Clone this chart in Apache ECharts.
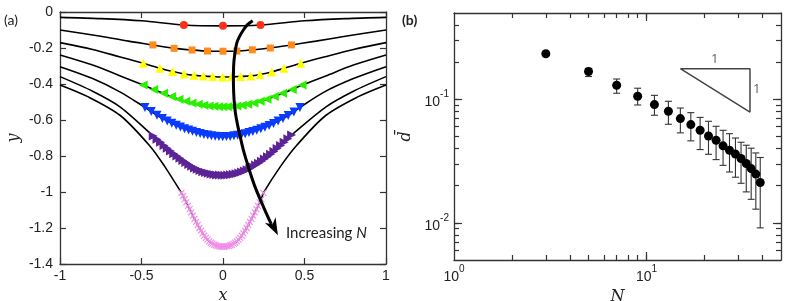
<!DOCTYPE html>
<html><head><meta charset="utf-8">
<script src="https://cdn.jsdelivr.net/npm/echarts@6/dist/echarts.min.js"></script>
<style>html,body{margin:0;padding:0;background:#fff}#c{width:789px;height:301px}</style>
</head><body><div id="c"></div>
<script>
// ---------- Panel (a): particle positions on each surface ----------
const redPts = [[-0.24,-0.072],[0,-0.077],[0.23,-0.072]];
const redOuterL = [[-1,-0.03],[-0.75,-0.037],[-0.5,-0.049]];
const redOuterR = [[0.5,-0.049],[0.75,-0.037],[1,-0.03]];

const orangePts = [[-0.43,-0.183],[-0.3,-0.202],[-0.19,-0.211],[-0.095,-0.217],[0,-0.218],[0.085,-0.217],[0.18,-0.21],[0.29,-0.2],[0.42,-0.183]];
const orangeOuterL = [[-1,-0.1],[-0.75,-0.135],[-0.58,-0.162]];
const orangeOuterR = [[0.57,-0.162],[0.75,-0.135],[1,-0.1]];

const yellowPts = [[-0.489,-0.285],[-0.387,-0.313],[-0.309,-0.331],[-0.239,-0.344],[-0.178,-0.352],[-0.121,-0.356],[-0.063,-0.359],[-0.002,-0.361],[0.053,-0.36],[0.108,-0.358],[0.17,-0.355],[0.227,-0.347],[0.299,-0.333],[0.374,-0.313],[0.477,-0.285]];
const yellowOuterL = [[-1,-0.17],[-0.8,-0.208],[-0.63,-0.25]];
const yellowOuterR = [[0.62,-0.25],[0.8,-0.208],[1,-0.17]];

const greenPts = [[-0.49,-0.406],[-0.425,-0.43],[-0.365,-0.452],[-0.315,-0.47],[-0.27,-0.485],[-0.228,-0.496],[-0.19,-0.506],[-0.152,-0.513],[-0.118,-0.518],[-0.085,-0.522],[-0.055,-0.524],[-0.027,-0.526],[0,-0.526],[0.027,-0.526],[0.055,-0.524],[0.085,-0.522],[0.118,-0.518],[0.152,-0.513],[0.19,-0.506],[0.228,-0.496],[0.27,-0.485],[0.315,-0.47],[0.365,-0.452],[0.425,-0.43],[0.485,-0.406]];
const greenOuterL = [[-1,-0.239],[-0.8,-0.295],[-0.63,-0.355]];
const greenOuterR = [[0.63,-0.355],[0.8,-0.295],[1,-0.239]];

const bluePts = [[-0.479,-0.53],[-0.44,-0.553],[-0.405,-0.573],[-0.372,-0.591],[-0.342,-0.605],[-0.314,-0.618],[-0.287,-0.629],[-0.261,-0.639],[-0.236,-0.648],[-0.211,-0.656],[-0.187,-0.663],[-0.163,-0.669],[-0.14,-0.675],[-0.117,-0.68],[-0.094,-0.684],[-0.071,-0.688],[-0.048,-0.69],[-0.025,-0.692],[-0.002,-0.693],[0.021,-0.692],[0.044,-0.691],[0.067,-0.688],[0.09,-0.685],[0.113,-0.681],[0.136,-0.676],[0.159,-0.67],[0.183,-0.664],[0.207,-0.657],[0.232,-0.649],[0.257,-0.64],[0.283,-0.63],[0.31,-0.619],[0.338,-0.606],[0.368,-0.592],[0.4,-0.575],[0.435,-0.555],[0.472,-0.53]];
const blueOuterL = [[-1,-0.304],[-0.8,-0.37],[-0.63,-0.445]];
const blueOuterR = [[0.62,-0.445],[0.8,-0.37],[1,-0.304]];

const purplePts = [[-0.428,-0.689],[-0.405,-0.707],[-0.383,-0.724],[-0.362,-0.741],[-0.342,-0.757],[-0.322,-0.772],[-0.302,-0.787],[-0.283,-0.8],[-0.264,-0.813],[-0.246,-0.825],[-0.228,-0.836],[-0.21,-0.847],[-0.192,-0.857],[-0.175,-0.866],[-0.158,-0.874],[-0.141,-0.881],[-0.124,-0.887],[-0.107,-0.892],[-0.09,-0.896],[-0.073,-0.9],[-0.056,-0.903],[-0.039,-0.905],[-0.022,-0.906],[-0.005,-0.907],[0.012,-0.907],[0.029,-0.906],[0.046,-0.904],[0.063,-0.901],[0.08,-0.898],[0.097,-0.894],[0.114,-0.889],[0.131,-0.883],[0.148,-0.877],[0.165,-0.869],[0.182,-0.86],[0.2,-0.85],[0.218,-0.84],[0.236,-0.829],[0.254,-0.817],[0.273,-0.804],[0.292,-0.79],[0.312,-0.775],[0.332,-0.759],[0.353,-0.742],[0.375,-0.724],[0.398,-0.704],[0.421,-0.683]];
const purpleOuterL = [[-1,-0.359],[-0.8,-0.44],[-0.63,-0.528]];
const purpleOuterR = [[0.63,-0.528],[0.8,-0.44],[1,-0.359]];

const pinkPts = [[-0.255,-1.005],[-0.245,-1.022],[-0.235,-1.04],[-0.225,-1.058],[-0.215,-1.077],[-0.205,-1.095],[-0.195,-1.113],[-0.185,-1.131],[-0.175,-1.149],[-0.165,-1.166],[-0.155,-1.183],[-0.145,-1.2],[-0.135,-1.215],[-0.125,-1.23],[-0.115,-1.243],[-0.105,-1.255],[-0.095,-1.265],[-0.085,-1.274],[-0.075,-1.281],[-0.065,-1.287],[-0.055,-1.292],[-0.045,-1.296],[-0.035,-1.299],[-0.025,-1.301],[-0.015,-1.303],[-0.005,-1.304],[0.005,-1.304],[0.015,-1.303],[0.025,-1.301],[0.035,-1.299],[0.045,-1.296],[0.055,-1.292],[0.065,-1.287],[0.075,-1.281],[0.085,-1.274],[0.095,-1.265],[0.105,-1.255],[0.115,-1.243],[0.125,-1.23],[0.135,-1.215],[0.145,-1.2],[0.155,-1.183],[0.165,-1.166],[0.175,-1.149],[0.185,-1.131],[0.195,-1.113],[0.205,-1.095],[0.215,-1.077],[0.225,-1.058],[0.235,-1.04],[0.248,-1.005]];
const pinkOuterL = [[-1,-0.405],[-0.83,-0.47],[-0.63,-0.575],[-0.45,-0.743],[-0.36,-0.855]];
const pinkOuterR = [[0.355,-0.855],[0.45,-0.743],[0.63,-0.575],[0.83,-0.47],[1,-0.405]];

const arrowPath = [[0.182,-0.048],[0.15,-0.07],[0.125,-0.1],[0.1,-0.138],[0.084,-0.174],[0.072,-0.235],[0.065,-0.304],[0.064,-0.4],[0.068,-0.489],[0.076,-0.56],[0.09,-0.63],[0.105,-0.69],[0.125,-0.767],[0.155,-0.859],[0.196,-0.97],[0.247,-1.08],[0.299,-1.183],[0.337,-1.24]];

// ---------- Panel (b) ----------
const nValues = [3,5,7,9,11,13,15,17,19,21,23,25,27,29,31,33,35,37,39];
const dMean   = [0.234,0.168,0.130,0.106,0.0906,0.080,0.0698,0.0624,0.0562,0.0505,0.0466,0.0420,0.0387,0.0360,0.0332,0.0302,0.0275,0.0248,0.0212];
const dLow    = [null,0.153,0.112,0.090,0.0743,0.0628,0.0535,0.0461,0.0392,0.0359,0.0325,0.0292,0.0258,0.0234,0.0209,0.0178,0.0155,0.0129,0.0091];
const dHigh   = [null,0.178,0.146,0.123,0.1077,0.0964,0.085,0.078,0.0714,0.0664,0.0605,0.0561,0.0527,0.0486,0.0449,0.0425,0.0402,0.0368,0.0338];
const slopeTriN = [15,34.5,34.5,15];
const slopeTriD = [0.177,0.177,0.0789,0.177];
const slopeLabels = [[22.6,0.177,'top'],[34.5,0.1205,'right']];
const xLabelValsB = [1,10];
const xTickValsB = [2,3,4,5,6,7,8,9,10,20,30,40];
const xMajorB = [10];
const yLabelValsB = [0.01,0.1];
const yTickValsB = [0.006,0.007,0.008,0.009,0.01,0.02,0.03,0.04,0.05,0.06,0.07,0.08,0.09,0.1,0.2,0.3,0.4];
const yMajorB = [0.01,0.1];

// ---------- build ----------
const axisCol = '#333';
const tickFont = 'Liberation Sans, Arial, sans-serif';
const serif = 'DejaVu Serif, serif';
const nameStyle = {fontFamily: serif, fontStyle: 'italic', fontSize: 16, color: '#222'};
function tick(len, custom) {
  const t = {show: true, inside: true, length: len, lineStyle: {color: axisCol, width: 1.2}};
  if (custom) t.customValues = custom;
  return t;
}
function baseAxis(extra) {
  return Object.assign({
    axisLine: {show: true, onZero: false, lineStyle: {color: axisCol, width: 1.3}},
    axisTick: tick(6),
    axisLabel: {fontSize: 14, color: '#222', fontFamily: tickFont},
    splitLine: {show: false}, minorTick: {show: false}
  }, extra);
}
const powRich = {
  b: {fontSize: 14, fontFamily: tickFont, color: '#222', lineHeight: 20, verticalAlign: 'bottom'},
  s: {fontSize: 10, fontFamily: tickFont, color: '#222', lineHeight: 20, verticalAlign: 'top'}
};
function powFmt(v) { return '{b|10}{s|' + Math.round(Math.log10(v)) + '}'; }

const curves = [
  [redOuterL, redPts, redOuterR],
  [orangeOuterL, orangePts, orangeOuterR],
  [yellowOuterL, yellowPts, yellowOuterR],
  [greenOuterL, greenPts, greenOuterR],
  [blueOuterL, bluePts, blueOuterR],
  [purpleOuterL, purplePts, purpleOuterR],
  [pinkOuterL, pinkPts, pinkOuterR]
];
const markerDefs = [
  {pts: redPts, color: '#ff3019', symbol: 'circle', size: 8, rot: 0},
  {pts: orangePts, color: '#ff8c1a', symbol: 'rect', size: 7, rot: 0},
  {pts: yellowPts, color: '#ffff00', symbol: 'triangle', size: 9, rot: 0},
  {pts: greenPts, color: '#2af000', symbol: 'triangle', size: 9, rot: 90},
  {pts: bluePts, color: '#0a3cff', symbol: 'triangle', size: 9, rot: 180},
  {pts: purplePts, color: '#5c2396', symbol: 'triangle', size: 9, rot: -90},
  {pts: pinkPts, color: '#f090e8', symbol: 'path://M0,0L10,10M10,0L0,10', size: 6, rot: 0}
];

const series = [];
curves.forEach(c => {
  series.push({type: 'line', xAxisIndex: 0, yAxisIndex: 0, data: c[0].concat(c[1], c[2]),
    showSymbol: false, smooth: 0.3, lineStyle: {color: '#000', width: 1.6}, z: 2, silent: true});
});
markerDefs.forEach(m => {
  const isX = m.symbol.indexOf('path') === 0;
  series.push({type: 'scatter', xAxisIndex: 0, yAxisIndex: 0, data: m.pts, symbol: m.symbol,
    symbolSize: m.size, symbolRotate: m.rot, z: 3,
    itemStyle: isX ? {color: 'none', borderColor: m.color, borderWidth: 1.2, opacity: 1} : {color: m.color, opacity: 1}});
});
// arrow: shaft + barbed head, positioned through the axes
series.push({type: 'custom', xAxisIndex: 0, yAxisIndex: 0, data: [arrowPath[arrowPath.length - 1]], z: 5, silent: true,
  renderItem: function (params, api) {
    const pts = arrowPath.map(p => api.coord(p));
    const tip = pts[pts.length - 1], prev = pts[pts.length - 3];
    let dx = tip[0] - prev[0], dy = tip[1] - prev[1];
    const len = Math.hypot(dx, dy); dx /= len; dy /= len;
    const L = 17, W = 6;
    const back = [tip[0] - dx * L, tip[1] - dy * L];
    const notch = [tip[0] - dx * L * 0.7, tip[1] - dy * L * 0.7];
    const left = [back[0] - dy * W, back[1] + dx * W];
    const right = [back[0] + dy * W, back[1] - dx * W];
    const shaft = pts.slice(0, pts.length - 1);
    while (shaft.length > 1) {
      const q = shaft[shaft.length - 1];
      if (Math.hypot(q[0] - tip[0], q[1] - tip[1]) < L * 0.7) shaft.pop(); else break;
    }
    shaft.push(notch);
    return {type: 'group', children: [
      {type: 'polyline', shape: {points: shaft, smooth: 0.3}, style: {stroke: '#000', lineWidth: 3, fill: null}},
      {type: 'polygon', shape: {points: [tip, left, notch, right]}, style: {fill: '#000'}}
    ]};
  }});

// panel b
const errData = [];
nValues.forEach((n, i) => { if (dLow[i] != null) errData.push([n, dLow[i], dHigh[i]]); });
series.push({type: 'custom', xAxisIndex: 2, yAxisIndex: 2, data: errData, z: 2,
  encode: {x: 0, y: [1, 2]},
  renderItem: function (params, api) {
    const lo = api.coord([api.value(0), api.value(1)]);
    const hi = api.coord([api.value(0), api.value(2)]);
    const w = 3.5;
    const st = {stroke: '#333', lineWidth: 1.1};
    return {type: 'group', children: [
      {type: 'line', shape: {x1: hi[0], y1: hi[1], x2: lo[0], y2: lo[1]}, style: st},
      {type: 'line', shape: {x1: hi[0] - w, y1: hi[1], x2: hi[0] + w, y2: hi[1]}, style: st},
      {type: 'line', shape: {x1: lo[0] - w, y1: lo[1], x2: lo[0] + w, y2: lo[1]}, style: st}
    ]};
  }});
series.push({type: 'scatter', xAxisIndex: 2, yAxisIndex: 2, data: nValues.map((n, i) => [n, dMean[i]]),
  symbol: 'circle', symbolSize: 9, itemStyle: {color: '#000', opacity: 1}, z: 3});
series.push({type: 'line', xAxisIndex: 2, yAxisIndex: 2, data: slopeTriN.map((n, i) => [n, slopeTriD[i]]),
  showSymbol: false, lineStyle: {color: '#444', width: 1.5}, z: 2, silent: true});
series.push({type: 'scatter', xAxisIndex: 2, yAxisIndex: 2, symbolSize: 0,
  data: slopeLabels.map(s => ({value: [s[0], s[1]], label: {show: true, position: s[2], distance: 3, formatter: '1',
    fontFamily: 'Open Sans, sans-serif', fontSize: 13, color: '#333'}})), z: 4});

function hiddenLog(grid, pos, min, max, vals, len) {
  return baseAxis({gridIndex: grid, type: 'log', logBase: 10, position: pos, min: min, max: max,
    axisLine: {show: false}, axisLabel: {show: false}, axisTick: tick(len, vals)});
}

const option = {
  animation: false,
  backgroundColor: '#fff',
  grid: [
    {left: 60, top: 12, width: 326, height: 252, outerBoundsMode: 'none', containLabel: false},
    {left: 454, top: 13, width: 327, height: 247, outerBoundsMode: 'none', containLabel: false}
  ],
  xAxis: [
    baseAxis({gridIndex: 0, type: 'value', position: 'bottom', min: -1, max: 1, interval: 0.5,
      axisLabel: {fontSize: 14, color: '#222', fontFamily: tickFont, margin: 5},
      name: 'x', nameLocation: 'middle', nameGap: 24, nameTextStyle: nameStyle}),
    baseAxis({gridIndex: 0, type: 'value', position: 'top', min: -1, max: 1, interval: 0.5, axisLabel: {show: false}}),
    baseAxis({gridIndex: 1, type: 'log', logBase: 10, position: 'bottom', min: 1, max: 50,
      axisLabel: {customValues: xLabelValsB, formatter: powFmt, rich: powRich, margin: 4},
      axisTick: tick(5, xTickValsB),
      name: 'N', nameLocation: 'middle', nameGap: 23, nameTextStyle: nameStyle}),
    baseAxis({gridIndex: 1, type: 'log', logBase: 10, position: 'top', min: 1, max: 50,
      axisLabel: {show: false}, axisTick: tick(5, xTickValsB)}),
    hiddenLog(1, 'bottom', 1, 50, xMajorB, 8),
    hiddenLog(1, 'top', 1, 50, xMajorB, 8)
  ],
  yAxis: [
    baseAxis({gridIndex: 0, type: 'value', position: 'left', min: -1.4, max: 0, interval: 0.2,
      axisLabel: {fontSize: 14, color: '#222', fontFamily: tickFont, margin: 7},
      name: 'y', nameLocation: 'middle', nameGap: 38, nameTextStyle: nameStyle}),
    baseAxis({gridIndex: 0, type: 'value', position: 'right', min: -1.4, max: 0, interval: 0.2, axisLabel: {show: false}}),
    baseAxis({gridIndex: 1, type: 'log', logBase: 10, position: 'left', min: 0.005, max: 0.5,
      axisLabel: {customValues: yLabelValsB, formatter: powFmt, rich: powRich, margin: 5},
      axisTick: tick(5, yTickValsB),
      name: 'd\u0304', nameLocation: 'middle', nameGap: 40, nameTextStyle: nameStyle}),
    baseAxis({gridIndex: 1, type: 'log', logBase: 10, position: 'right', min: 0.005, max: 0.5,
      axisLabel: {show: false}, axisTick: tick(5, yTickValsB)}),
    hiddenLog(1, 'left', 0.005, 0.5, yMajorB, 8),
    hiddenLog(1, 'right', 0.005, 0.5, yMajorB, 8)
  ],
  graphic: [
    {type: 'text', left: 4, top: 13, style: {text: '(a)', fontSize: 14, fontFamily: 'Lato, sans-serif', fill: '#222'}},
    {type: 'text', left: 402, top: 13, style: {text: '(b)', fontSize: 14, fontFamily: 'Lato, sans-serif', fontWeight: 'bold', fill: '#222'}},
    {type: 'text', left: 286, top: 226, style: {text: '{t|Increasing }{i|N}', rich: {
      t: {fontSize: 15, fontFamily: 'Lato, sans-serif', fill: '#222'},
      i: {fontSize: 15, fontFamily: 'Lato, sans-serif', fontStyle: 'italic', fill: '#222'}}}}
  ],
  series: series
};
const chart = echarts.init(document.getElementById('c'), null, {renderer: 'canvas'});
chart.setOption(option);
</script>
</body></html>
